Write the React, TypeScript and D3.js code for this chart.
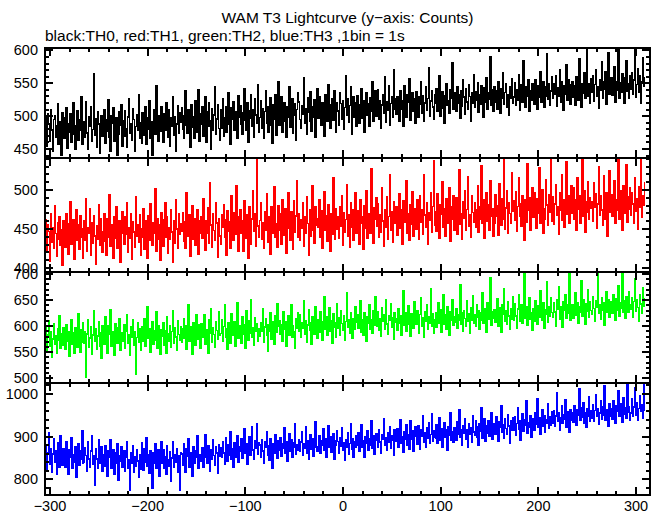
import React from "react";
import * as d3 from "d3";

const TITLE = "WAM T3 Lightcurve (y\u2212axis: Counts)";
const SUBTITLE = "black:TH0, red:TH1, green:TH2, blue:TH3 ,1bin = 1s";
const T_START = -305;
const BIN = 1;
const X_TICK_LABELS = [-300, -200, -100, 0, 100, 200, 300];

const TH0 = [
470,498,455,503,488,462,510,479,447,495,501,468,486,519,458,474,492,440,505,483,
466,497,512,451,489,476,503,461,494,520,472,449,486,508,463,495,478,530,457,484,
491,468,522,474,450,499,485,514,462,480,565,471,496,453,507,488,443,476,501,469,
482,510,459,494,477,525,468,446,500,489,513,462,481,497,440,473,506,487,518,455,
493,470,508,481,452,499,526,474,488,463,511,495,447,484,502,478,532,466,490,459,
505,471,489,514,458,497,480,523,466,492,441,485,509,473,546,490,462,501,477,515,
486,460,503,479,521,492,468,510,455,497,484,530,471,499,446,488,516,474,505,491,
512,480,466,501,538,487,474,509,495,452,518,483,499,467,524,491,476,540,462,503,
488,515,470,497,529,461,506,484,520,493,449,511,478,502,545,472,496,517,481,464,
509,482,527,469,498,514,475,503,536,488,457,512,495,522,478,506,491,466,531,499,
516,488,472,505,541,494,479,520,461,508,497,533,484,510,468,526,502,489,548,476,
498,523,481,511,466,507,539,490,514,475,502,528,486,459,518,496,533,471,509,552,
487,512,530,476,504,521,492,468,515,498,544,483,509,527,474,501,519,463,510,536,
522,495,481,516,503,558,489,511,473,528,506,492,537,477,514,499,525,468,508,541,
497,530,514,486,521,505,470,533,509,492,548,517,481,502,526,494,539,511,476,520,
508,487,535,519,496,524,480,513,562,501,527,491,516,545,473,509,530,498,521,485,
531,505,489,518,542,497,523,476,510,536,502,519,484,528,507,553,493,515,538,500,
512,540,496,524,481,517,533,505,560,491,522,509,547,486,519,530,498,571,511,527,
503,529,516,492,538,510,524,485,547,515,499,532,521,557,494,518,536,507,526,489,
537,511,498,529,518,552,505,531,492,520,544,509,527,574,500,523,538,514,496,533,
519,542,507,528,561,500,525,537,512,490,531,549,516,523,504,540,527,582,510,535,
526,508,545,520,533,497,538,515,556,529,503,541,522,511,548,530,493,536,519,563,
514,537,524,551,506,532,518,546,528,499,543,521,559,510,535,526,590,517,540,508,
545,522,539,511,553,530,504,541,527,566,518,536,549,513,532,501,544,528,557,520,
529,551,516,540,525,563,509,537,548,521,584,532,514,545,530,556,507,539,524,550,
541,518,556,533,510,547,529,568,522,539,553,513,544,531,595,526,549,517,538,560,
527,549,534,562,515,543,530,571,521,552,538,509,546,533,578,524,556,541,518,548,
553,529,546,517,560,537,524,588,541,513,550,535,566,528,544,602,531,549,520,557,
536,561,523,548,570,531,545,512,556,539,583,527,552,541,567,518,549,596,534,545,
559,532,547,575,521,553,540,610,528,551,536,565,546,519,558,585,538,549,527,562,
541,566,533,555,604,529,548,572,537,561,520,553,589,545,558
];

const TH1 = [
438,462,421,455,447,409,470,433,451,426,480,444,415,458,437,466,429,449,403,461,
452,427,469,440,418,457,485,431,448,462,411,443,474,435,456,424,467,439,450,413,
460,436,489,422,451,445,476,416,458,432,467,441,405,454,437,481,429,463,446,420,
434,470,452,417,463,440,494,428,456,447,412,466,438,479,425,453,461,407,444,472,
457,431,465,443,484,420,452,438,470,411,459,446,427,491,441,455,433,468,416,450,
439,476,424,461,448,413,467,435,482,453,429,458,444,501,422,463,437,456,410,471,
462,428,455,483,440,466,419,452,437,474,446,408,461,432,487,450,425,469,443,457,
447,471,434,459,426,497,453,441,468,415,456,480,437,463,429,451,475,418,460,445,
466,438,489,451,423,460,444,477,432,509,455,427,470,448,436,484,458,414,463,441,
430,468,452,481,439,462,416,473,447,459,425,492,450,436,471,443,506,458,421,465,
474,445,460,422,486,452,438,468,413,479,456,431,463,499,447,470,428,541,454,440,
461,483,437,458,426,472,449,495,433,466,452,418,478,445,462,504,439,457,427,480,
448,469,431,488,455,442,476,419,463,497,451,435,472,458,424,486,446,467,512,440,
470,436,462,451,483,428,466,445,491,457,417,474,441,460,505,449,432,479,455,463,
452,487,440,473,425,461,498,448,467,434,481,456,421,470,443,515,459,437,476,450,
465,438,479,454,493,429,471,446,462,507,441,468,427,484,452,475,435,460,496,444,
473,449,431,488,457,466,424,480,451,499,438,470,460,445,527,455,432,477,463,490,
454,482,439,468,446,503,460,428,475,452,491,437,466,519,448,472,433,485,458,470,
479,442,467,495,451,474,430,486,459,464,512,445,470,436,481,456,498,441,476,462,
450,488,466,437,492,459,475,443,520,468,452,484,431,471,461,497,446,479,538,455,
472,447,495,463,438,481,469,510,452,476,441,489,466,458,503,434,478,462,492,449,
461,490,443,477,526,456,470,437,485,464,499,448,475,517,453,468,440,493,471,459,
483,452,474,505,446,479,462,531,457,487,438,472,496,460,481,449,512,466,476,441,
458,494,467,480,442,508,471,455,489,463,541,450,477,499,444,484,470,457,522,473,
486,461,498,447,479,515,466,482,453,493,470,436,488,459,534,474,490,448,477,503,
465,497,478,451,489,470,528,458,484,500,445,476,462,513,481,455,494,471,541,460,
491,456,482,507,468,479,443,496,474,520,461,487,452,478,536,469,492,457,483,505,
470,503,462,488,449,516,476,493,458,481,541,467,499,446,485,472,511,463,490,477,
485,460,509,478,495,451,482,530,468,492,474,455,518,487,463,497,441,480,525,471,
494,466,481,512,457,488,474,541,463,499,479,449,506,484,470,532,459,491,476,503,
468,496,482,457,515,473,489,450,504,478,541,465,492,480,509
];

const TH2 = [
570,598,552,583,611,561,589,540,575,604,566,581,548,594,573,619,558,586,563,597,
584,556,602,571,590,543,578,613,565,587,549,596,574,560,623,582,551,593,569,606,
567,590,503,585,612,559,577,598,546,583,629,571,594,555,581,609,562,588,538,601,
593,566,618,579,549,600,585,632,561,589,574,544,605,580,567,596,615,553,587,571,
576,603,558,591,621,568,584,545,599,579,612,563,590,507,578,606,569,594,553,588,
598,572,614,561,589,637,576,595,550,584,608,566,592,574,627,557,600,582,546,593,
581,606,564,592,548,617,585,571,601,559,590,629,567,596,579,553,611,584,574,599,
569,594,615,577,601,556,589,640,572,598,583,547,607,586,563,621,591,575,603,558,
604,579,596,622,566,593,581,548,612,587,634,570,597,584,559,608,592,575,627,583,
586,612,572,599,641,578,594,555,606,589,568,624,595,582,609,561,598,645,576,601,
599,567,618,585,602,558,629,591,574,610,587,651,579,597,563,616,590,605,571,594,
580,607,591,634,569,598,614,583,552,603,590,626,575,609,596,566,620,588,643,599,
611,585,603,572,628,594,608,561,597,619,583,605,640,578,600,589,557,614,596,625,
590,622,579,606,596,648,584,611,570,602,631,593,607,566,618,599,585,637,603,576,
612,588,627,601,574,609,656,595,617,582,604,635,590,611,568,623,598,606,579,642,
597,616,583,630,605,592,619,573,609,664,598,612,586,626,601,577,615,594,638,607,
621,596,610,648,589,612,582,625,603,571,617,606,641,595,613,587,629,601,657,610,
600,627,593,614,580,636,609,622,595,651,604,585,619,611,643,598,616,575,625,607,
615,592,634,606,620,583,611,668,602,625,590,617,639,604,581,623,610,597,646,614,
603,630,611,587,622,654,600,616,578,627,609,641,595,618,606,672,599,624,586,613,
625,598,619,645,606,632,589,614,660,603,621,594,637,610,583,627,612,650,601,618,
608,634,597,621,612,680,604,626,591,630,615,600,648,609,623,586,636,612,659,605,
622,600,641,617,630,594,626,611,664,606,633,619,588,645,613,625,692,602,628,615,
631,608,624,652,599,636,618,589,640,622,671,610,629,603,646,620,594,634,613,657,
612,643,620,597,633,661,609,627,640,605,624,700,616,638,601,630,654,614,626,592,
634,610,649,625,603,639,617,668,628,612,644,596,631,622,685,608,637,619,655,626,
618,645,627,600,651,632,675,613,638,624,598,647,630,661,616,641,625,700,611,636,
640,615,632,663,621,645,606,638,627,687,619,650,633,604,642,628,670,617,646,630,
622,657,634,610,649,636,700,624,641,613,655,631,645,602,638,666,626,651,618,642,
646,625,660,637,612,653,631,678,620,644,634,700,627,648,615,657,639,626,665,641,
633,655,618,647,690,629,651,636,609,660,642,624,673,638,652
];

const TH3 = [
845,880,823,861,908,836,872,817,859,894,841,866,812,885,850,829,903,857,834,871,
862,829,887,843,811,869,852,898,826,858,839,877,804,853,884,832,866,848,914,837,
841,873,856,818,889,847,829,866,901,835,855,787,871,848,826,892,859,838,876,819,
858,831,879,844,806,867,852,893,825,849,870,812,861,838,884,797,856,842,875,828,
834,866,819,851,889,827,846,774,862,838,879,816,853,831,870,843,805,858,824,885,
853,822,871,840,897,831,858,814,866,848,779,861,837,883,826,852,870,808,847,889,
838,869,826,853,812,878,846,831,864,796,850,887,829,857,841,872,817,855,774,862,
859,834,882,847,816,871,853,895,829,861,845,808,876,838,866,851,901,825,857,843,
846,873,829,864,905,851,837,879,860,818,870,848,892,856,832,876,862,815,881,853,
874,851,889,862,835,897,868,843,881,856,912,847,872,829,886,864,851,903,840,877,
865,894,849,878,918,861,884,836,871,899,856,882,924,868,847,890,873,930,858,885,
881,852,893,866,838,887,874,911,857,879,845,896,869,826,884,861,904,873,850,890,
868,897,855,883,872,920,861,888,842,879,906,866,892,851,885,874,929,858,881,869,
893,865,888,912,857,884,873,923,862,890,846,881,905,870,895,853,887,934,876,866,
877,902,861,891,881,918,868,894,852,887,926,874,899,863,883,907,846,890,879,913,
889,862,897,878,921,869,886,845,893,875,908,858,884,931,871,896,852,888,876,903,
881,909,866,893,928,875,890,852,899,884,914,869,895,881,937,873,901,859,892,906,
900,874,915,887,862,904,893,942,879,898,868,910,886,924,873,902,891,857,917,895,
889,918,876,903,940,884,899,864,911,893,927,880,905,871,936,895,913,866,902,924,
912,883,926,897,871,915,902,948,888,909,876,921,896,933,884,905,954,890,914,898,
896,927,884,910,945,892,918,875,906,933,899,915,868,924,904,956,891,912,886,920,
919,892,934,905,962,898,915,881,926,909,942,894,917,876,931,906,921,888,949,911,
904,937,899,922,881,930,913,968,896,919,942,889,925,908,936,901,918,957,893,927,
930,905,947,916,889,935,922,973,910,928,897,941,919,906,952,925,884,938,915,944,
915,946,904,931,967,918,936,892,925,953,912,939,926,983,908,933,921,948,899,929,
941,916,955,928,989,922,944,906,936,962,925,948,911,939,931,976,919,946,927,958,
932,961,925,948,1003,937,955,916,944,972,931,952,940,987,923,958,946,911,964,938,
957,934,973,946,926,962,951,1012,939,968,945,980,932,955,921,965,949,994,937,960,
944,975,936,961,998,947,966,929,955,983,942,970,951,1020,938,963,957,925,978,949,
966,941,984,955,932,973,959,1008,947,976,962,934,990,953,968,944,1025,958,971,939,
955,988,947,970,1015,951,979,938,966,996,959,974,943,1021,962
];

const SERIES = [TH0, TH1, TH2, TH3];
const COLORS = ["#000000", "#ff0000", "#00ff00", "#0000ff"];
const Y_DOMAINS: [number, number][] = [[436.3, 603.8], [395.5, 541], [491, 704.8], [763, 1025.8]];
const Y_MAJOR = [50, 50, 50, 100];
const Y_MINOR = [10, 10, 10, 20];
const Y_LABELS = [[450, 500, 550, 600], [400, 450, 500], [500, 550, 600, 650, 700], [800, 900, 1000]];

const W = 661;
const H = 515;
const LEFT = 45;
const RIGHT = 650;
const PANEL_EDGES = [48, 158, 271.5, 383, 495];
const FONT = "'Liberation Sans', Arial, Helvetica, sans-serif";

export default function App() {
  const x = d3.scaleLinear().domain([-305.1, 314.3]).range([LEFT, RIGHT]);
  const xMinor = d3.range(-300, 315, 20);
  const xMajor = X_TICK_LABELS;

  return (
    <svg width={W} height={H} style={{ position: "absolute", left: 0, top: 0, background: "#fff" }}>
      <rect x={0} y={0} width={W} height={H} fill="#fff" />
      <text x={(LEFT + RIGHT) / 2} y={23} textAnchor="middle" fontFamily={FONT} fontSize={15.5} fill="#000">{TITLE}</text>
      <text x={LEFT} y={41} fontFamily={FONT} fontSize={15.5} fill="#000">{SUBTITLE}</text>
      <defs>
        {SERIES.map((_, i) => (
          <clipPath id={`clip${i}`} key={i}>
            <rect x={LEFT} y={PANEL_EDGES[i]} width={RIGHT - LEFT} height={PANEL_EDGES[i + 1] - PANEL_EDGES[i]} />
          </clipPath>
        ))}
      </defs>
      {SERIES.map((vals, i) => {
        const top = PANEL_EDGES[i];
        const bottom = PANEL_EDGES[i + 1];
        const y = d3.scaleLinear().domain(Y_DOMAINS[i]).range([bottom, top]);
        const line = d3
          .line<number>()
          .x((_, k) => x(T_START + k * BIN))
          .y((v) => y(v))
          .curve(d3.curveStep);
        const [d0, d1] = Y_DOMAINS[i];
        const minors = d3.range(Math.ceil(d0 / Y_MINOR[i]) * Y_MINOR[i], d1, Y_MINOR[i]);
        return (
          <g key={i}>
            <path
              d={line(vals) || ""}
              fill="none"
              stroke={COLORS[i]}
              strokeWidth={1.6}
              shapeRendering="crispEdges"
              clipPath={`url(#clip${i})`}
            />
            {minors.map((v) => {
              const major = v % Y_MAJOR[i] === 0;
              const len = major ? 8 : 4;
              return (
                <g key={v} shapeRendering="crispEdges">
                  <line x1={LEFT} x2={LEFT + len} y1={y(v)} y2={y(v)} stroke="#000" strokeWidth={2} />
                  <line x1={RIGHT} x2={RIGHT - len} y1={y(v)} y2={y(v)} stroke="#000" strokeWidth={2} />
                </g>
              );
            })}
            {xMinor.map((t) => {
              const major = t % 100 === 0;
              const len = major ? 8 : 4;
              return (
                <g key={t} shapeRendering="crispEdges">
                  <line x1={x(t)} x2={x(t)} y1={top} y2={top + len} stroke="#000" strokeWidth={2} />
                  <line x1={x(t)} x2={x(t)} y1={bottom} y2={bottom - len} stroke="#000" strokeWidth={2} />
                </g>
              );
            })}
            {Y_LABELS[i].map((v) => (
              <text key={v} x={38} y={y(v) + 5} textAnchor="end" fontFamily={FONT} fontSize={14.5} fill="#000">
                {v}
              </text>
            ))}
            <rect
              x={LEFT}
              y={top}
              width={RIGHT - LEFT}
              height={bottom - top}
              fill="none"
              stroke="#000"
              strokeWidth={2}
              shapeRendering="crispEdges"
            />
          </g>
        );
      })}
      {xMajor.map((t) => (
        <text key={t} x={x(t)} y={511} textAnchor="middle" fontFamily={FONT} fontSize={14.5} fill="#000">
          {t < 0 ? `\u2212${Math.abs(t)}` : `${t}`}
        </text>
      ))}
    </svg>
  );
}
